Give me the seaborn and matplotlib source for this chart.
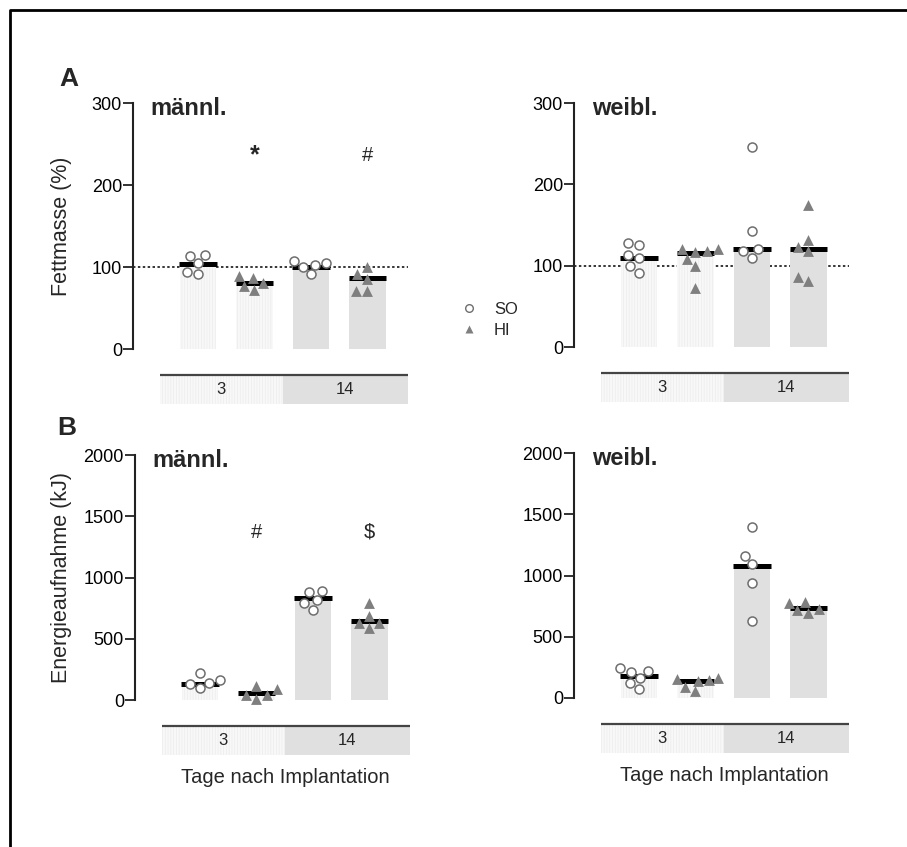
import numpy as np
import pandas as pd
import matplotlib
matplotlib.use("Agg")
import matplotlib.pyplot as plt
import matplotlib.transforms as mtransforms
from matplotlib.patches import Rectangle
from matplotlib.lines import Line2D
import seaborn as sns

# ---- data -------------------------------------------------------------
bar_labels = ["3 SO", "3 HI", "14 SO", "14 HI"]
bar_groups = ["SO", "HI", "SO", "HI"]
day_labels = ["3", "14"]

fat_m_points = [[115, 114, 105, 91, 94],
                [80, 89, 86, 72, 77],
                [103, 107, 105, 100, 91],
                [100, 85, 91, 71, 71]]
fat_m_medians = [104, 80, 100, 86]
fat_m_marks = ["", "*", "", "#"]

fat_w_points = [[113, 125, 128, 109, 91, 99],
                [120, 108, 117, 121, 118, 99, 72],
                [121, 118, 143, 246, 110],
                [123, 118, 132, 175, 81, 86]]
fat_w_medians = [110, 115, 121, 121]
fat_w_marks = ["", "", "", ""]

energy_m_points = [[141, 223, 163, 128, 95],
                   [41, 114, 87, 5, 41],
                   [892, 879, 816, 789, 735],
                   [789, 626, 686, 626, 585]]
energy_m_medians = [131, 60, 835, 642]
energy_m_marks = ["", "#", "", "$"]

energy_w_points = [[222, 214, 241, 163, 122, 73],
                   [140, 160, 155, 148, 54, 90],
                   [1397, 1161, 1094, 939, 625],
                   [725, 779, 782, 697, 719]]
energy_w_medians = [182, 136, 1077, 733]
energy_w_marks = ["", "", "", ""]

fat_ticks = [0, 100, 200, 300]
energy_ticks = [0, 500, 1000, 1500, 2000]

# ---- style ------------------------------------------------------------
sns.set_style("ticks")
plt.rcParams["font.family"] = ["Liberation Sans", "DejaVu Sans"]
plt.rcParams["hatch.linewidth"] = 0.5

LIGHT = "#f8f8f8"
STIPPLE = "#ececec"
GREY = "#e0e0e0"
AXIS = "#222222"

W, H = 907, 847
fig = plt.figure(figsize=(W / 100, H / 100), dpi=100)


def px_axes(left, top, width, height):
    return fig.add_axes([left / W, 1 - (top + height) / H, width / W, height / H])


XLIM = (-1.15, 3.72)
BOX_X0, BOX_SPLIT = -0.68, 1.5


def draw_panel(ax, points, medians, marks, mark_y, ymax, ticks, title,
               ylabel=None, refline=False, xlabel=None):
    rows = []
    for lab, grp, pts in zip(bar_labels, bar_groups, points):
        for v in pts:
            rows.append({"cat": lab, "group": grp, "value": v})
    pts_df = pd.DataFrame(rows)
    bar_df = pd.DataFrame({"cat": bar_labels, "median": medians})

    if refline:
        ax.axhline(100, color="black", lw=1.1, ls=(0, (1.6, 1.6)), zorder=0.5)

    sns.barplot(data=bar_df, x="cat", y="median", hue="cat", order=bar_labels,
                hue_order=bar_labels, palette=[LIGHT, LIGHT, GREY, GREY],
                width=0.65, saturation=1, linewidth=0, legend=False,
                errorbar=None, ax=ax, zorder=1)
    for p in ax.patches:
        if p.get_x() + p.get_width() / 2 < 1.5:
            p.set_hatch("||||||")
            p.set_edgecolor(STIPPLE)
            p.set_linewidth(0)

    xs = np.arange(len(bar_labels))
    ax.hlines(medians, xs - 0.33, xs + 0.33, color="black", lw=3.6, zorder=2)

    sns.swarmplot(data=pts_df[pts_df.group == "SO"], x="cat", y="value",
                  order=bar_labels, marker="o", color="white",
                  edgecolor="#6e6e6e", linewidth=1.1, size=6.5, ax=ax, zorder=3)
    sns.swarmplot(data=pts_df[pts_df.group == "HI"], x="cat", y="value",
                  order=bar_labels, marker="^", color="#7f7f7f",
                  linewidth=0, size=7.8, ax=ax, zorder=3)
    for c in ax.collections:
        c.set_clip_on(False)

    for i, s in enumerate(marks):
        if s == "*":
            ax.text(i, mark_y, s, ha="center", va="center", fontsize=18,
                    fontweight="bold")
        elif s:
            ax.text(i, mark_y, s, ha="center", va="center", fontsize=14.5)

    ax.set_xlim(*XLIM)
    ax.set_ylim(0, ymax)
    ax.set_xticks([])
    ax.set_xlabel("")
    ax.set_yticks(ticks)
    ax.set_yticklabels([str(t) for t in ticks])
    ax.tick_params(axis="y", length=7, width=1.3, color=AXIS, labelsize=13,
                   pad=1, labelcolor="black")
    for side in ("top", "right", "bottom"):
        ax.spines[side].set_visible(False)
    ax.spines["left"].set_linewidth(1.5)
    ax.spines["left"].set_color(AXIS)
    ax.set_facecolor("none")

    if ylabel:
        ax.set_ylabel(ylabel, fontsize=15.5)
    else:
        ax.set_ylabel("")

    ax.text(0.065, 0.952, title, transform=ax.transAxes, fontsize=17,
            fontweight="bold", va="baseline", ha="left")

    # day group strip under the bars
    trans = mtransforms.blended_transform_factory(ax.transData, ax.transAxes)
    top, bot = -0.105, -0.225
    left_box = Rectangle((BOX_X0, bot), BOX_SPLIT - BOX_X0, top - bot,
                         transform=trans, facecolor=LIGHT, edgecolor=STIPPLE,
                         hatch="||||||", linewidth=0, clip_on=False)
    right_box = Rectangle((BOX_SPLIT, bot), XLIM[1] - BOX_SPLIT, top - bot,
                          transform=trans, facecolor=GREY, linewidth=0,
                          clip_on=False)
    ax.add_patch(left_box)
    ax.add_patch(right_box)
    ax.plot([BOX_X0, XLIM[1]], [top, top], transform=trans, color="#444444",
            lw=1.6, clip_on=False, solid_capstyle="butt")
    ax.text((BOX_X0 + BOX_SPLIT) / 2, (top + bot) / 2, day_labels[0],
            transform=trans, ha="center", va="center", fontsize=12)
    ax.text((BOX_SPLIT + XLIM[1]) / 2, (top + bot) / 2, day_labels[1],
            transform=trans, ha="center", va="center", fontsize=12)
    if xlabel:
        ax.text((BOX_X0 + XLIM[1]) / 2, -0.315, xlabel, transform=trans,
                ha="center", va="center", fontsize=14.5)


axA1 = px_axes(133, 103, 275, 246)
axA2 = px_axes(574, 103, 275, 244)
axB1 = px_axes(135, 455, 275, 245)
axB2 = px_axes(574, 453, 275, 245)

draw_panel(axA1, fat_m_points, fat_m_medians, fat_m_marks, 236, 300,
           fat_ticks, "männl.", ylabel="Fettmasse (%)", refline=True)
draw_panel(axA2, fat_w_points, fat_w_medians, fat_w_marks, 236, 300,
           fat_ticks, "weibl.", refline=True)
draw_panel(axB1, energy_m_points, energy_m_medians, energy_m_marks, 1371, 2000,
           energy_ticks, "männl.", ylabel="Energieaufnahme (kJ)",
           xlabel="Tage nach Implantation")
draw_panel(axB2, energy_w_points, energy_w_medians, energy_w_marks, 1371, 2000,
           energy_ticks, "weibl.", xlabel="Tage nach Implantation")

axA1.yaxis.set_label_coords(-0.222, 0.5)
axB1.yaxis.set_label_coords(-0.229, 0.5)

# panel letters
fig.text(59 / W, 1 - 86 / H, "A", fontsize=19, fontweight="bold", va="baseline")
fig.text(57 / W, 1 - 435 / H, "B", fontsize=19, fontweight="bold", va="baseline")

# legend between the fat-mass panels
handles = [Line2D([], [], marker="o", ls="", mfc="white", mec="#6e6e6e",
                  mew=1.0, ms=5.5),
           Line2D([], [], marker="^", ls="", mfc="#7f7f7f", mec="none", ms=6)]
fig.legend(handles, ["SO", "HI"], loc="center left",
           bbox_to_anchor=(444 / W, 1 - 320 / H), frameon=False, fontsize=12,
           handletextpad=0.9, labelspacing=0.4, handlelength=1.2)

# outer frame
fig.add_artist(Line2D([10 / W, 10 / W, 1.0], [0.0, 1 - 10 / H, 1 - 10 / H],
                      transform=fig.transFigure, color="black", lw=2))

fig.savefig("out.png", dpi=100)
